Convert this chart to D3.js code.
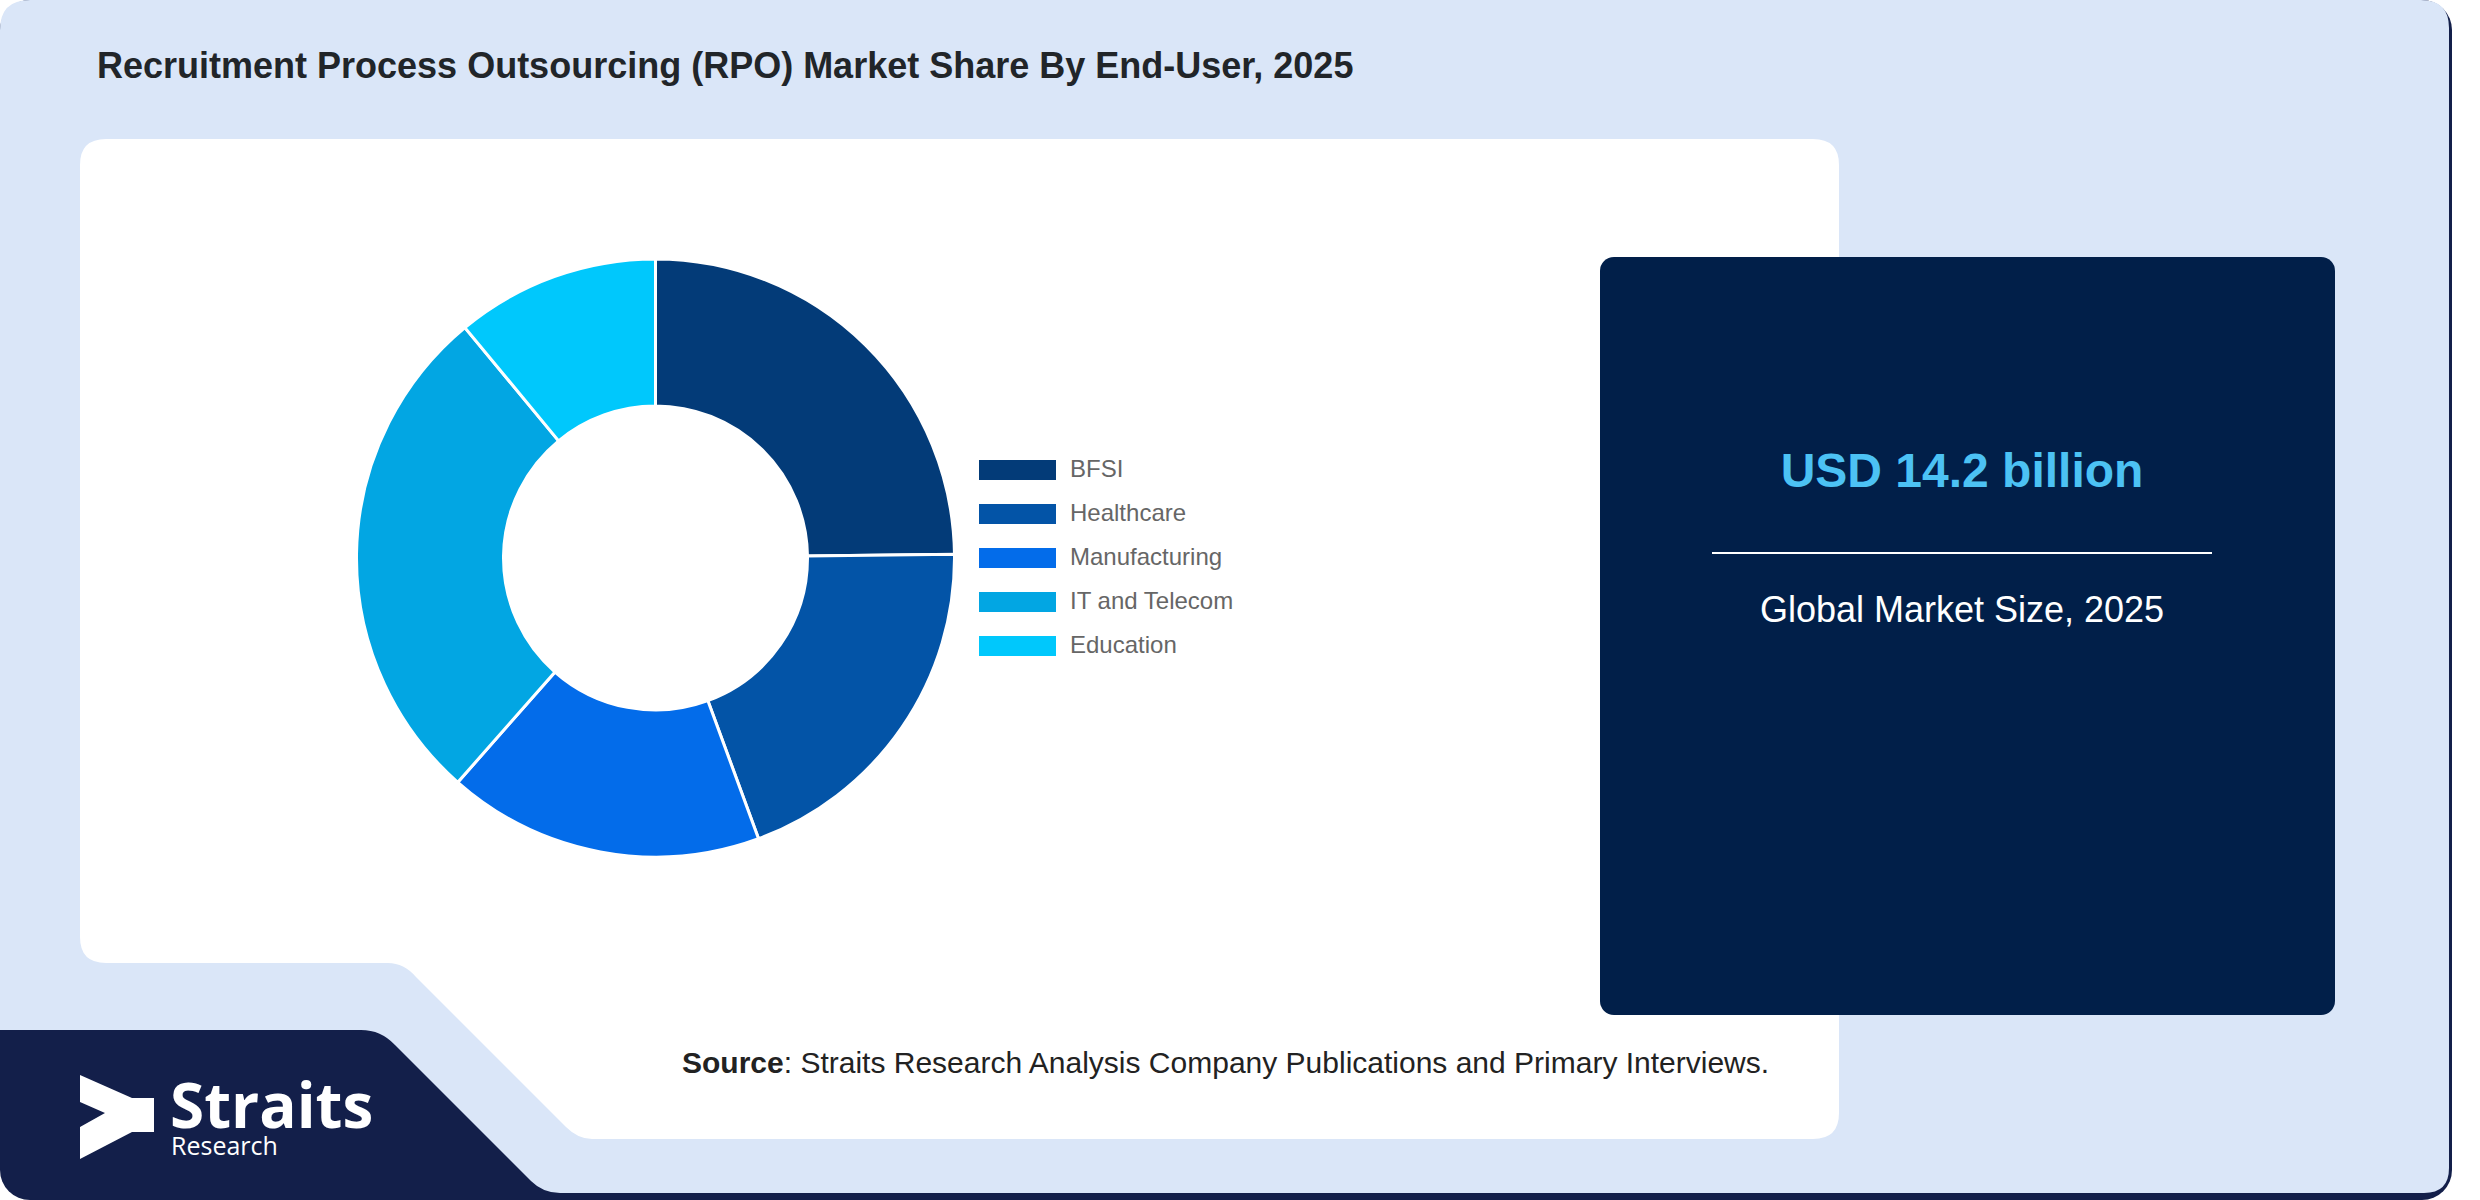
<!DOCTYPE html>
<html>
<head>
<meta charset="utf-8">
<script src="https://cdn.jsdelivr.net/npm/d3@7"></script>
<style>
  body { margin: 0; background: #ffffff; }
  svg { display: block; }
</style>
</head>
<body>
<svg id="grafico"></svg>
<script>
// Datos del gráfico (cuota por usuario final, %)
const categorias = ["BFSI", "Healthcare", "Manufacturing", "IT and Telecom", "Education"];
const valores = [24.8, 19.6, 17.1, 27.5, 11.0];
const colores = ["#033b78", "#0354a7", "#036cea", "#02a6e3", "#00c8fc"];

const titulo = "Recruitment Process Outsourcing (RPO) Market Share By End-User, 2025";
const valorMercado = "USD 14.2 billion";
const textoMercado = "Global Market Size, 2025";
const fuente = ": Straits Research Analysis Company Publications and Primary Interviews.";

var anchura = 2480,
    altura = 1200;

var svg = d3.select("#grafico")
    .attr("width", anchura)
    .attr("height", altura);

//Fondo: bloque azul oscuro abajo y tarjeta azul claro encima
svg.append("rect")
    .attr("x", 0).attr("y", 0)
    .attr("width", 2452).attr("height", 1200)
    .attr("rx", 30)
    .style("fill", "#131f4a");

svg.append("path")
    .attr("d", "M0,30 Q0,0 30,0 L2421,0 Q2449,0 2449,28 L2449,1168 Q2449,1193 2424,1193 " +
        "L560,1193 Q543,1193 531,1181 L395,1045 Q381,1030 361,1030 L0,1030 Z")
    .style("fill", "#dae6f8");

//Panel blanco con el recorte diagonal
svg.append("path")
    .attr("d", "M80,165 Q80,139 106,139 L1813,139 Q1839,139 1839,165 L1839,1113 Q1839,1139 1813,1139 " +
        "L592,1139 Q578,1139 566,1127 L416,977 Q404,963 388,963 L106,963 Q80,963 80,937 Z")
    .style("fill", "#ffffff");

//Título
svg.append("text")
    .attr("x", 97)
    .attr("y", 78)
    .text(titulo)
    .style("font", "bold 36px 'Liberation Sans', Arial, sans-serif")
    .style("fill", "#212529");

//Donut
var cx = 655.5, cy = 558;
var arc = d3.arc()
    .outerRadius(299)
    .innerRadius(152);

var graficoDonut = d3.pie()
    .sort(null)
    .value(function (d) { return d.valor; });

var datos = categorias.map(function (c, i) { return { categoria: c, valor: valores[i] }; });
var color = d3.scaleOrdinal().domain(categorias).range(colores);

var g = svg.append("g")
    .attr("transform", "translate(" + cx + "," + cy + ")");

g.selectAll(".arc")
    .data(graficoDonut(datos))
    .join("path")
    .attr("class", "arc")
    .attr("d", arc)
    .style("fill", function (d) { return color(d.data.categoria); })
    .style("stroke", "#ffffff")
    .style("stroke-width", 3);

//Leyenda
var leyenda = svg.append("g")
    .attr("transform", "translate(979,460)");

var item = leyenda.selectAll(".item")
    .data(categorias)
    .join("g")
    .attr("class", "item")
    .attr("transform", function (d, i) { return "translate(0," + (i * 44) + ")"; });

item.append("rect")
    .attr("width", 77)
    .attr("height", 20)
    .style("fill", function (d) { return color(d); });

item.append("text")
    .attr("x", 91)
    .attr("y", 17)
    .text(function (d) { return d; })
    .style("font", "24px 'Liberation Sans', Arial, sans-serif")
    .style("fill", "#666666");

//Panel del tamaño de mercado
svg.append("rect")
    .attr("x", 1600).attr("y", 257)
    .attr("width", 735).attr("height", 758)
    .attr("rx", 14)
    .style("fill", "#011f49");

var centroPanel = 1962;
svg.append("text")
    .attr("x", centroPanel)
    .attr("y", 487)
    .attr("text-anchor", "middle")
    .text(valorMercado)
    .style("font", "bold 48px 'Liberation Sans', Arial, sans-serif")
    .style("fill", "#4cc2f4");

svg.append("line")
    .attr("x1", 1712).attr("x2", 2212)
    .attr("y1", 553).attr("y2", 553)
    .style("stroke", "#ffffff")
    .style("stroke-width", 2);

svg.append("text")
    .attr("x", centroPanel)
    .attr("y", 622)
    .attr("text-anchor", "middle")
    .text(textoMercado)
    .style("font", "36px 'Liberation Sans', Arial, sans-serif")
    .style("fill", "#ffffff");

//Fuente
var txtFuente = svg.append("text")
    .attr("x", 682)
    .attr("y", 1073)
    .style("font", "30px 'Liberation Sans', Arial, sans-serif")
    .style("fill", "#222222");
txtFuente.append("tspan").style("font-weight", "bold").text("Source");
txtFuente.append("tspan").text(fuente);

//Logo Straits Research (un solo texto con dos líneas)
svg.append("polygon")
    .attr("points", "80,1075 132,1098 154,1098 154,1132 132,1132 80,1159 80,1127 105,1113 80,1102")
    .style("fill", "#ffffff");

var logo = svg.append("text")
    .style("font-family", "'Open Sans', sans-serif")
    .style("fill", "#ffffff");
logo.append("tspan")
    .attr("x", 170).attr("y", 1128)
    .style("font-size", "62px")
    .style("font-weight", "bold")
    .text("Straits");
logo.append("tspan")
    .attr("x", 171).attr("y", 1155)
    .style("font-size", "25px")
    .text("Research");
</script>
</body>
</html>
